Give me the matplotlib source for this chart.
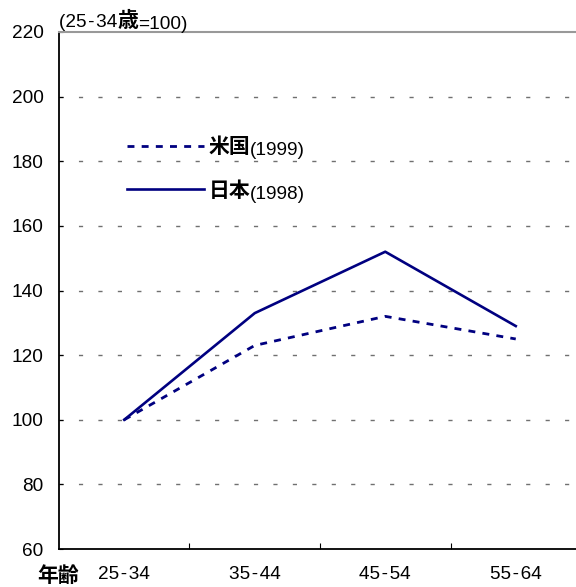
import numpy as np
import matplotlib.pyplot as plt
from matplotlib.transforms import IdentityTransform

plt.rcParams['font.family'] = ['Liberation Sans', 'DejaVu Sans', 'Noto Sans CJK JP']
plt.rcParams['axes.unicode_minus'] = False

ages = ['25-34', '35-44', '45-54', '55-64']
us_1999 = [100, 123, 132, 125]
japan_1998 = [100, 133, 152, 129]

navy = '#000080'
cjk = ['Noto Sans CJK JP']
fs = 13.7
fs_cjk = 15


def spaced(s):
    # hair spaces round the hyphen, as in the printed labels
    return s.replace('-', '\u200a-\u200a')


fig = plt.figure(figsize=(5.76, 5.87), dpi=100)
ax = fig.add_axes([0.1024, 0.0647, 0.9063, 0.8808])

x = np.arange(len(ages))
l_us, = ax.plot(x, us_1999, color=navy, lw=2.0, linestyle=(0, (2.5, 2.6)))
l_jp, = ax.plot(x, japan_1998, color=navy, lw=1.9)

ax.set_xlim(-0.5, 3.5)
ax.set_ylim(60, 220)
ax.set_yticks(np.arange(60, 221, 20))
ax.set_xticks(x)
ax.set_xticklabels([spaced(a) for a in ages], fontsize=fs)
ax.set_xticks(x[:-1] + 0.5, minor=True)
ax.tick_params(axis='x', which='major', length=0, pad=12)
ax.tick_params(axis='x', which='minor', direction='in', length=4, width=0.8)
ax.tick_params(axis='y', direction='in', length=3, width=0.8, labelsize=fs, pad=11)

# dashed grey grid at the inner ticks only
for v in range(80, 201, 20):
    ax.axhline(v, color='#707070', lw=1.0, linestyle=(0, (3, 11)), zorder=0)

ax.spines['top'].set_color('#999999')
ax.spines['top'].set_linewidth(1.5)
ax.spines['right'].set_visible(False)
ax.spines['left'].set_linewidth(1.3)
ax.spines['bottom'].set_linewidth(1.3)

leg = ax.legend([l_us, l_jp], ['米国', '日本'], loc='upper left',
                bbox_to_anchor=(0.131, 0.798), frameon=False,
                borderpad=0, borderaxespad=0,
                handlelength=3.7, handletextpad=0.2, labelspacing=1.07,
                prop={'family': cjk, 'weight': 'bold', 'size': fs_cjk})


def run_after(prev, s, **kw):
    # put s right after prev, on the same baseline
    fig.canvas.draw()
    r = fig.canvas.get_renderer()
    bb = prev.get_window_extent(r)
    _, _, d = r.get_text_width_height_descent(prev.get_text(),
                                              prev.get_fontproperties(), ismath=False)
    return fig.text(bb.x1, bb.y0 + d, s, transform=IdentityTransform(),
                    va='baseline', ha='left', **kw)


for t, yr in zip(leg.get_texts(), ['(1999)', '(1998)']):
    run_after(t, yr, fontsize=fs)

t1 = ax.text(0.0, 1.009, spaced('(25-34'), transform=ax.transAxes, fontsize=fs,
             ha='left', va='baseline')
t2 = run_after(t1, '歳', fontsize=fs_cjk, family=cjk, weight='bold')
run_after(t2, '=100)', fontsize=fs)

ax.text(0.038, -0.052, '年齢', transform=ax.transAxes, fontsize=fs_cjk,
        family=cjk, weight='bold', ha='right', va='center')

plt.savefig('out.png', dpi=100)
